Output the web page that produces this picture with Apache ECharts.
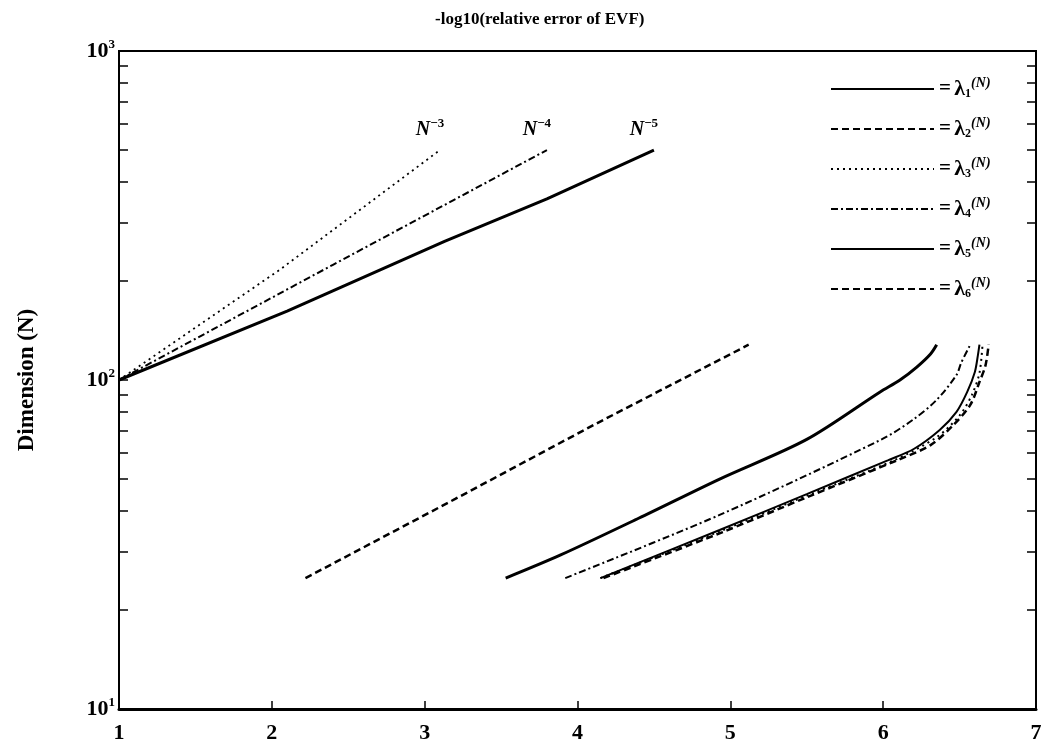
<!DOCTYPE html>
<html>
<head>
<meta charset="utf-8">
<script src="https://cdn.jsdelivr.net/npm/echarts@6/dist/echarts.min.js"></script>
<style>
  html, body { margin: 0; padding: 0; background: #fff; }
  #chart { width: 1052px; height: 751px; }
</style>
</head>
<body>
<div id="chart"></div>
<script>
// reference slopes N^-3, N^-4, N^-5
var refX3 = [1, 2.05, 3.1];
var refN3 = [100, 216, 500];
var refX4 = [1, 2.4, 3.8];
var refN4 = [100, 224, 500];
var refX5 = [1, 2.1, 3.13, 3.8, 4.5];
var refN5 = [100, 162, 264, 355, 500];

// eigenvalue curves (x = -log10 rel. error, N = dimension)
var x1 = [3.53, 3.89, 4.4, 4.93, 5.5, 5.98, 6.11, 6.22, 6.31, 6.35];
var n1 = [25, 29.4, 38, 50, 66, 92, 100, 109.5, 120, 128];
var x2 = [2.22, 3.2, 4.13, 5.12];
var n2 = [25, 43.5, 74, 128];
var x3 = [4.15, 4.94, 5.5, 6.07, 6.35, 6.5, 6.58, 6.63, 6.65];
var n3 = [25, 34.8, 44.5, 57, 67, 78, 90, 105, 128];
var x4 = [3.92, 4.93, 5.99, 6.2, 6.35, 6.48, 6.51, 6.57];
var n4 = [25, 38.9, 66, 76, 87, 103.6, 112.6, 128];
var x5 = [4.15, 4.93, 5.5, 6.03, 6.2, 6.37, 6.48, 6.55, 6.6, 6.62, 6.63];
var n5 = [25, 35, 45, 57, 61.7, 70.5, 80, 92, 105.8, 119, 128];
var x6 = [4.17, 4.95, 5.5, 6.11, 6.31, 6.46, 6.57, 6.63, 6.67, 6.69];
var n6 = [25, 34.5, 44, 57.5, 63.4, 73, 84, 98.6, 111, 128];

var xTicks = [1, 2, 3, 4, 5, 6, 7];
var yTicks = [10, 20, 30, 40, 50, 60, 70, 80, 90, 100, 200, 300, 400, 500, 600, 700, 800, 900, 1000];

var serif = 'Liberation Serif';

function pairs(xs, ns) {
	var out = [];
	for (var i = 0; i < xs.length; i++) out.push([xs[i], ns[i]]);
	return out;
}

// put the N^-k label on the last point of a reference line
function refData(xs, ns, k) {
	var d = pairs(xs, ns);
	var last = d.length - 1;
	d[last] = {
		value: d[last],
		symbol: 'circle',
		symbolSize: 0,
		label: {
			show: true,
			position: 'top',
			distance: 8,
			offset: [-10, 0],
			formatter: '{n|N}{s|−' + k + '}',
			rich: {
				n: { fontFamily: serif, fontStyle: 'italic', fontWeight: 'bold', fontSize: 20, color: '#000' },
				s: { fontFamily: serif, fontWeight: 'bold', fontSize: 13, color: '#000', padding: [0, 0, 12, 0] }
			}
		}
	};
	return d;
}

function line(name, data, width, dash, smooth) {
	return {
		name: name,
		type: 'line',
		data: data,
		symbol: 'none',
		smooth: smooth || false,
		silent: true,
		lineStyle: { color: '#000', width: width, type: dash },
		itemStyle: { color: '#000' }
	};
}

var dotted = [2, 4];
var dashed = [7, 4];
var dashDot = [7, 3, 2, 3];

var chart = echarts.init(document.getElementById('chart'));
var option = {
	animation: false,
	backgroundColor: '#fff',
	title: {
		text: '-log10(relative error of EVF)',
		left: 430,
		top: 6,
		textStyle: { fontFamily: serif, fontWeight: 'bold', fontSize: 17, color: '#000' }
	},
	grid: {
		left: 119, right: 16, top: 51, bottom: 42,
		show: true, borderColor: '#000', borderWidth: 2
	},
	legend: {
		orient: 'vertical',
		left: 825,
		top: 71,
		itemWidth: 103,
		itemHeight: 14,
		itemGap: 16,
		itemStyle: { opacity: 0 },
		data: ['λ1', 'λ2', 'λ3', 'λ4', 'λ5', 'λ6'],
		formatter: function (name) {
			return '{eq|=} {l|λ}{sub|' + name.slice(1) + '}{sup|(N)}';
		},
		textStyle: {
			color: '#000',
			rich: {
				eq: { fontFamily: serif, fontWeight: 'bold', fontSize: 21, color: '#000' },
				l: { fontFamily: serif, fontWeight: 'bold', fontSize: 22, color: '#000' },
				sub: { fontFamily: serif, fontWeight: 'bold', fontSize: 12, color: '#000', padding: [10, 0, 0, 0] },
				sup: { fontFamily: serif, fontStyle: 'italic', fontWeight: 'bold', fontSize: 14, color: '#000', padding: [0, 0, 12, 0] }
			}
		}
	},
	xAxis: {
		type: 'value',
		min: 1,
		max: 7,
		interval: 1,
		axisLine: { show: true, lineStyle: { color: '#000', width: 3 } },
		axisTick: { show: true, inside: true, length: 8, lineStyle: { color: '#000', width: 1.5 } },
		splitLine: { show: false },
		axisLabel: {
			margin: 13,
			fontFamily: serif,
			fontWeight: 'bold',
			fontSize: 22,
			color: '#000',
			customValues: xTicks
		}
	},
	yAxis: [{
		type: 'log',
		logBase: 10,
		min: 10,
		max: 1000,
		position: 'left',
		name: 'Dimension (N)',
		nameLocation: 'middle',
		nameGap: 80,
		nameTextStyle: { fontFamily: serif, fontWeight: 'bold', fontSize: 23, color: '#000' },
		axisLine: { show: true, lineStyle: { color: '#000', width: 2 } },
		axisTick: { show: true, inside: true, length: 9, customValues: yTicks, lineStyle: { color: '#000', width: 1.5 } },
		splitLine: { show: false },
		axisLabel: {
			margin: 4,
			customValues: [10, 100, 1000],
			formatter: function (v) {
				return '{b|10}{s|' + Math.round(Math.log10(v)) + '}';
			},
			rich: {
				b: { fontFamily: serif, fontWeight: 'bold', fontSize: 22, color: '#000' },
				s: { fontFamily: serif, fontWeight: 'bold', fontSize: 13, color: '#000', padding: [0, 0, 12, 0] }
			}
		}
	}, {
		type: 'log',
		logBase: 10,
		min: 10,
		max: 1000,
		position: 'right',
		axisLine: { show: true, lineStyle: { color: '#000', width: 2 } },
		axisTick: { show: true, inside: true, length: 9, customValues: yTicks, lineStyle: { color: '#000', width: 1.5 } },
		splitLine: { show: false },
		axisLabel: { show: false }
	}],
	series: [
		line('N-3', refData(refX3, refN3, 3), 1.8, dotted),
		line('N-4', refData(refX4, refN4, 4), 2, dashDot),
		line('N-5', refData(refX5, refN5, 5), 3, 'solid'),
		line('λ1', pairs(x1, n1), 3, 'solid', 0.3),
		line('λ2', pairs(x2, n2), 2.5, dashed),
		line('λ3', pairs(x3, n3), 2, dotted, 0.3),
		line('λ4', pairs(x4, n4), 2, dashDot, 0.3),
		line('λ5', pairs(x5, n5), 2, 'solid', 0.3),
		line('λ6', pairs(x6, n6), 2.5, dashed, 0.3)
	]
};
chart.setOption(option);
</script>
</body>
</html>
